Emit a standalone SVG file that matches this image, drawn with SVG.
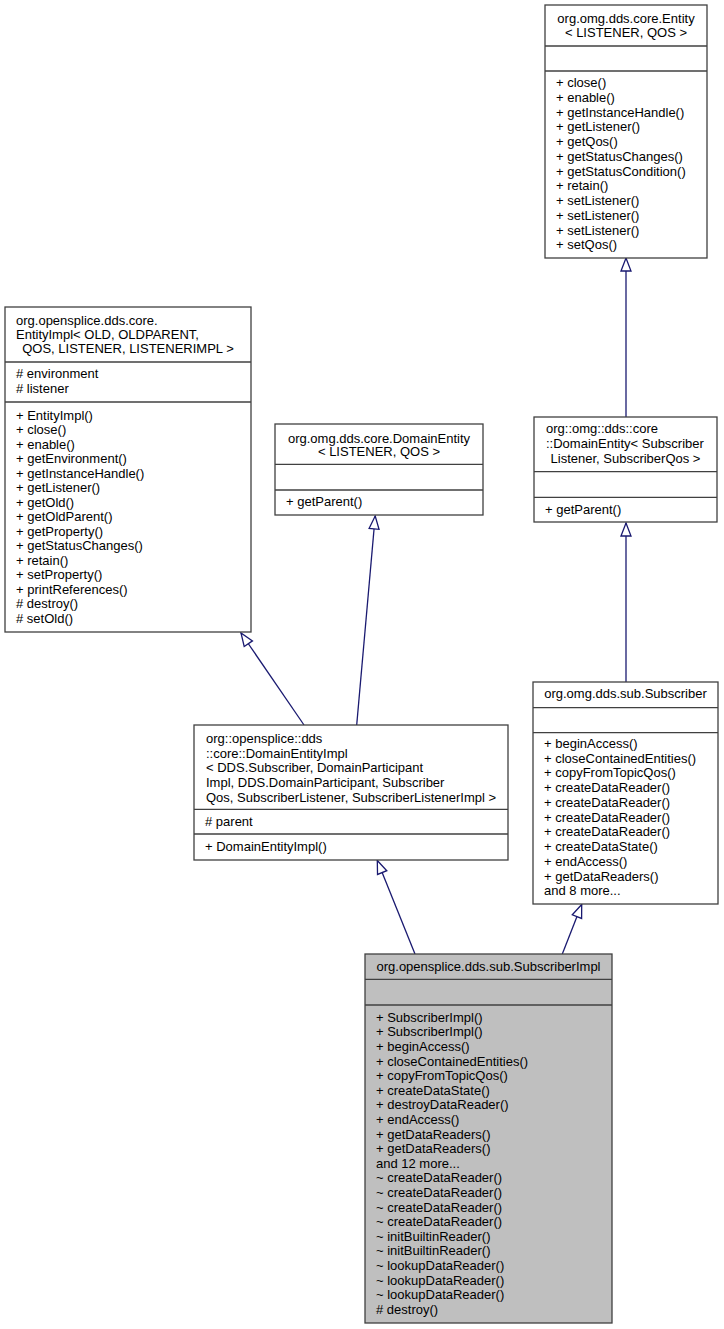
<svg xmlns="http://www.w3.org/2000/svg" width="724" height="1329" viewBox="0 0 724 1329">
<style>
text{font-family:"Liberation Sans",Arial,sans-serif;font-size:13px;fill:#000}
.c{text-anchor:middle}
.box{fill:#fff;stroke:#404040;stroke-width:1.3}
.cur{fill:#bfbfbf;stroke:#404040;stroke-width:1.3}
.sep{stroke:#404040;stroke-width:1.3}
.edge{fill:none;stroke:#191970;stroke-width:1.3;marker-end:url(#inh)}
</style>
<defs>
<marker id="inh" markerUnits="userSpaceOnUse" markerWidth="16" markerHeight="12" refX="14" refY="6" orient="auto" overflow="visible">
<path d="M1,1 L14,6 L1,11 Z" fill="#fff" stroke="#191970" stroke-width="1.3"/>
</marker>
</defs>
<rect width="724" height="1329" fill="#fff"/>

<g id="connectors">
<path class="edge" d="M626,417 L626,258"/>
<path class="edge" d="M626,682 L626,523"/>
<path class="edge" d="M356.7,725 L375.2,516"/>
<path class="edge" d="M304,725 L241,633"/>
<path class="edge" d="M415,954 L377.3,860.5"/>
<path class="edge" d="M562.3,954 L581.7,904.5"/>
</g>

<g id="entity">
<rect class="box" x="545" y="5" width="162" height="253"/>
<line class="sep" x1="545" y1="46" x2="707" y2="46"/>
<line class="sep" x1="545" y1="71" x2="707" y2="71"/>
<text class="c" x="626" y="22.5">org.omg.dds.core.Entity</text>
<text class="c" x="626" y="37">&lt; LISTENER, QOS &gt;</text>
<text x="556" y="87">+ close()</text>
<text x="556" y="101.75">+ enable()</text>
<text x="556" y="116.5">+ getInstanceHandle()</text>
<text x="556" y="131.25">+ getListener()</text>
<text x="556" y="146">+ getQos()</text>
<text x="556" y="160.75">+ getStatusChanges()</text>
<text x="556" y="175.5">+ getStatusCondition()</text>
<text x="556" y="190.25">+ retain()</text>
<text x="556" y="205">+ setListener()</text>
<text x="556" y="219.75">+ setListener()</text>
<text x="556" y="234.5">+ setListener()</text>
<text x="556" y="249.25">+ setQos()</text>
</g>

<g id="entityimpl">
<rect class="box" x="5" y="307" width="246" height="325"/>
<line class="sep" x1="5" y1="362" x2="251" y2="362"/>
<line class="sep" x1="5" y1="402" x2="251" y2="402"/>
<text x="16" y="325">org.opensplice.dds.core.</text>
<text x="16" y="339">EntityImpl&lt; OLD, OLDPARENT,</text>
<text class="c" x="128" y="353"> QOS, LISTENER, LISTENERIMPL &gt;</text>
<text x="16" y="378">#  environment</text>
<text x="16" y="393">#  listener</text>
<text x="16" y="419.5">+ EntityImpl()</text>
<text x="16" y="434">+ close()</text>
<text x="16" y="448.5">+ enable()</text>
<text x="16" y="463">+ getEnvironment()</text>
<text x="16" y="477.5">+ getInstanceHandle()</text>
<text x="16" y="492">+ getListener()</text>
<text x="16" y="506.5">+ getOld()</text>
<text x="16" y="521">+ getOldParent()</text>
<text x="16" y="535.5">+ getProperty()</text>
<text x="16" y="550">+ getStatusChanges()</text>
<text x="16" y="564.5">+ retain()</text>
<text x="16" y="579">+ setProperty()</text>
<text x="16" y="593.5">+ printReferences()</text>
<text x="16" y="608">#  destroy()</text>
<text x="16" y="622.5">#  setOld()</text>
</g>

<g id="domainentity">
<rect class="box" x="275" y="424" width="208" height="91"/>
<line class="sep" x1="275" y1="464.3" x2="483" y2="464.3"/>
<line class="sep" x1="275" y1="490" x2="483" y2="490"/>
<text class="c" x="379" y="442.8">org.omg.dds.core.DomainEntity</text>
<text class="c" x="379" y="456.2">&lt; LISTENER, QOS &gt;</text>
<text x="286" y="506">+ getParent()</text>
</g>

<g id="domainentity_subscriber">
<rect class="box" x="534" y="417" width="183" height="105"/>
<line class="sep" x1="534" y1="471.7" x2="717" y2="471.7"/>
<line class="sep" x1="534" y1="497.3" x2="717" y2="497.3"/>
<text x="546" y="432.8">org::omg::dds::core</text>
<text x="546" y="447.8">::DomainEntity&lt; Subscriber</text>
<text class="c" x="625.5" y="462.8"> Listener, SubscriberQos &gt;</text>
<text x="545" y="513.5">+ getParent()</text>
</g>

<g id="domainentityimpl">
<rect class="box" x="194" y="725" width="314" height="135"/>
<line class="sep" x1="194" y1="809.3" x2="508" y2="809.3"/>
<line class="sep" x1="194" y1="834" x2="508" y2="834"/>
<text x="206" y="742.8">org::opensplice::dds</text>
<text x="206" y="757.5">::core::DomainEntityImpl</text>
<text x="206" y="772.2">&lt; DDS.Subscriber, DomainParticipant</text>
<text x="206" y="786.9">Impl, DDS.DomainParticipant, Subscriber</text>
<text class="c" x="351" y="801.6">Qos, SubscriberListener, SubscriberListenerImpl &gt;</text>
<text x="205" y="826.2">#  parent</text>
<text x="205" y="851.2">+ DomainEntityImpl()</text>
</g>

<g id="subscriber">
<rect class="box" x="533" y="682" width="185" height="222"/>
<line class="sep" x1="533" y1="707.7" x2="718" y2="707.7"/>
<line class="sep" x1="533" y1="732.7" x2="718" y2="732.7"/>
<text class="c" x="625.5" y="697.8">org.omg.dds.sub.Subscriber</text>
<text x="544" y="747.8">+ beginAccess()</text>
<text x="544" y="762.55">+ closeContainedEntities()</text>
<text x="544" y="777.3">+ copyFromTopicQos()</text>
<text x="544" y="792.05">+ createDataReader()</text>
<text x="544" y="806.8">+ createDataReader()</text>
<text x="544" y="821.55">+ createDataReader()</text>
<text x="544" y="836.3">+ createDataReader()</text>
<text x="544" y="851.05">+ createDataState()</text>
<text x="544" y="865.8">+ endAccess()</text>
<text x="544" y="880.55">+ getDataReaders()</text>
<text x="544" y="895.3">and 8 more...</text>
</g>

<g id="subscriberimpl">
<rect class="cur" x="365" y="954" width="247" height="369"/>
<line class="sep" x1="365" y1="979.3" x2="612" y2="979.3"/>
<line class="sep" x1="365" y1="1005" x2="612" y2="1005"/>
<text class="c" x="488.5" y="971.2">org.opensplice.dds.sub.SubscriberImpl</text>
<text x="376" y="1021.8">+ SubscriberImpl()</text>
<text x="376" y="1036.4">+ SubscriberImpl()</text>
<text x="376" y="1051">+ beginAccess()</text>
<text x="376" y="1065.6">+ closeContainedEntities()</text>
<text x="376" y="1080.2">+ copyFromTopicQos()</text>
<text x="376" y="1094.8">+ createDataState()</text>
<text x="376" y="1109.4">+ destroyDataReader()</text>
<text x="376" y="1124">+ endAccess()</text>
<text x="376" y="1138.6">+ getDataReaders()</text>
<text x="376" y="1153.2">+ getDataReaders()</text>
<text x="376" y="1167.8">and 12 more...</text>
<text x="376" y="1182.4">~ createDataReader()</text>
<text x="376" y="1197">~ createDataReader()</text>
<text x="376" y="1211.6">~ createDataReader()</text>
<text x="376" y="1226.2">~ createDataReader()</text>
<text x="376" y="1240.8">~ initBuiltinReader()</text>
<text x="376" y="1255.4">~ initBuiltinReader()</text>
<text x="376" y="1270">~ lookupDataReader()</text>
<text x="376" y="1284.6">~ lookupDataReader()</text>
<text x="376" y="1299.2">~ lookupDataReader()</text>
<text x="376" y="1313.8">#  destroy()</text>
</g>
</svg>
